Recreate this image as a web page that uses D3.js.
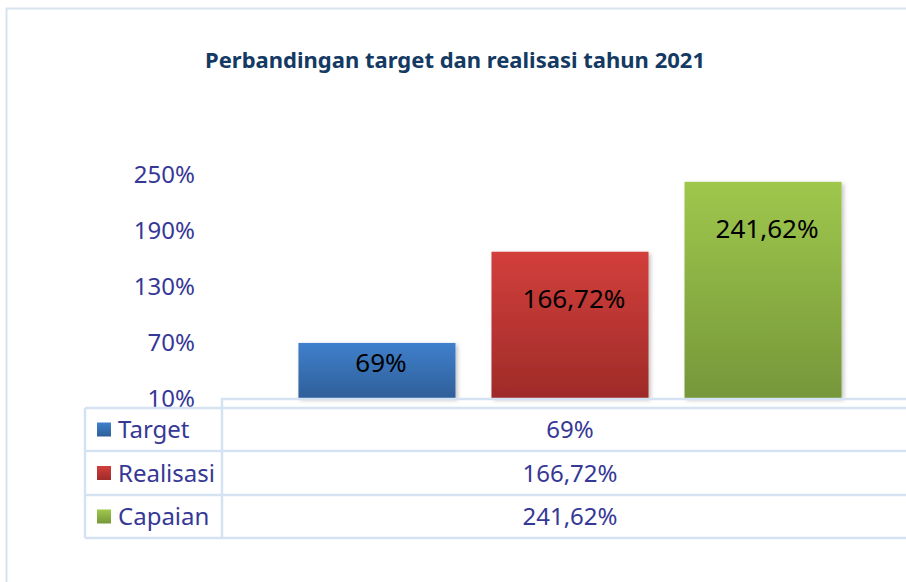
<!DOCTYPE html>
<html>
<head>
<meta charset="utf-8">
<script src="https://cdn.jsdelivr.net/npm/d3@7"></script>
<style>
  html, body { margin: 0; padding: 0; background: #fff; }
  svg { display: block; }
</style>
</head>
<body>
<svg id="chart" width="906" height="582"></svg>
<script>
// Series shown as grouped bars and in the data table
const seriesNames = ["Target", "Realisasi", "Capaian"];
const seriesValues = [69, 166.72, 241.62];
const valueLabels = ["69%", "166,72%", "241,62%"];
const tickValues = [10, 70, 130, 190, 250];
const chartTitle = "Perbandingan target dan realisasi tahun 2021";

const colors = {
  Target:    { top: "#3f80cc", bottom: "#2f5f99" },
  Realisasi: { top: "#d23f3b", bottom: "#9f2b29" },
  Capaian:   { top: "#9fc74c", bottom: "#76973a" }
};

const W = 906, H = 582;
const gridColor = "#d5e2f2";
const textColor = "#363896";
const font = "'Noto Sans', 'Open Sans', sans-serif";

const svg = d3.select("#chart");
const defs = svg.append("defs");

seriesNames.forEach((s, i) => {
  const g = defs.append("linearGradient")
    .attr("id", "grad" + i).attr("x1", 0).attr("y1", 0).attr("x2", 0).attr("y2", 1);
  g.append("stop").attr("offset", "0%").attr("stop-color", colors[s].top);
  g.append("stop").attr("offset", "100%").attr("stop-color", colors[s].bottom);
});

const shadow = defs.append("filter").attr("id", "shadow")
  .attr("x", "-10%").attr("y", "-10%").attr("width", "130%").attr("height", "130%");
shadow.append("feDropShadow").attr("dx", 2).attr("dy", 2).attr("stdDeviation", 2)
  .attr("flood-color", "#000").attr("flood-opacity", 0.25);

// Outer chart frame (runs off the right and bottom edges)
svg.append("rect").attr("x", 6.5).attr("y", 8.5).attr("width", 1000).attr("height", 1000)
  .attr("fill", "none").attr("stroke", "#d9e3ef").attr("stroke-width", 2);

// Title
svg.append("text")
  .attr("x", 455).attr("y", 68)
  .attr("text-anchor", "middle")
  .attr("font-family", font).attr("font-weight", "bold").attr("font-size", 22)
  .attr("fill", "#143a63")
  .attr("textLength", 500).attr("lengthAdjust", "spacingAndGlyphs")
  .text(chartTitle);

// Scales
const plotLeft = 222, plotRight = 918, plotBottom = 398, plotTop = 174;
const y = d3.scaleLinear().domain([10, 250]).range([plotBottom, plotTop]);
const x = d3.scaleBand().domain(seriesNames).range([plotLeft, plotRight])
  .paddingInner(0.1865).paddingOuter(0.396);

// Y axis (labels only)
const yAxis = d3.axisLeft(y).tickValues(tickValues).tickFormat(d => d + "%").tickSize(0).tickPadding(0);
const yg = svg.append("g").attr("transform", "translate(195,0)").call(yAxis);
yg.select(".domain").remove();
yg.selectAll("text")
  .attr("font-family", font).attr("font-size", 24).attr("fill", textColor)
  .attr("dy", "0.36em");

// Bars
svg.append("g").selectAll("rect")
  .data(seriesNames)
  .join("rect")
  .attr("x", d => x(d))
  .attr("width", x.bandwidth())
  .attr("y", (d, i) => y(seriesValues[i]))
  .attr("height", (d, i) => plotBottom - y(seriesValues[i]))
  .attr("fill", (d, i) => `url(#grad${i})`)
  .attr("filter", "url(#shadow)");

// Value labels inside bars
svg.append("g").selectAll("text")
  .data(seriesNames)
  .join("text")
  .attr("x", d => x(d) + x.bandwidth() / 2 + 4)
  .attr("y", (d, i) => {
    const h = plotBottom - y(seriesValues[i]);
    return y(seriesValues[i]) + Math.min(47, h * 0.35);
  })
  .attr("dy", "0.36em")
  .attr("text-anchor", "middle")
  .attr("font-family", font).attr("font-size", 26).attr("fill", "#000")
  .text((d, i) => valueLabels[i]);

// Data table grid
const tableLeft = 85, rowTops = [408, 451, 495, 538];
const grid = svg.append("g").attr("stroke", gridColor).attr("stroke-width", 2.5);
grid.append("line").attr("x1", plotLeft).attr("x2", W + 10).attr("y1", plotBottom + 1).attr("y2", plotBottom + 1);
grid.append("line").attr("x1", plotLeft).attr("x2", plotLeft).attr("y1", plotBottom).attr("y2", rowTops[3]);
grid.append("line").attr("x1", tableLeft).attr("x2", tableLeft).attr("y1", rowTops[0]).attr("y2", rowTops[3]);
grid.selectAll("line.row").data(rowTops).join("line").attr("class", "row")
  .attr("x1", tableLeft).attr("x2", W + 10).attr("y1", d => d).attr("y2", d => d);

// Table rows: legend key, series name, value
const rows = svg.append("g").selectAll("g")
  .data(seriesNames)
  .join("g")
  .attr("transform", (d, i) => `translate(0,${(rowTops[i] + rowTops[i + 1]) / 2})`);

rows.append("rect")
  .attr("x", 97).attr("y", -7).attr("width", 14).attr("height", 14)
  .attr("fill", (d, i) => `url(#grad${i})`);

rows.append("text")
  .attr("x", 118).attr("dy", "0.36em")
  .attr("font-family", font).attr("font-size", 24).attr("fill", textColor)
  .text(d => d);

rows.append("text")
  .attr("x", (plotLeft + plotRight) / 2).attr("dy", "0.36em")
  .attr("text-anchor", "middle")
  .attr("font-family", font).attr("font-size", 24).attr("fill", textColor)
  .text((d, i) => valueLabels[i]);
</script>
</body>
</html>
